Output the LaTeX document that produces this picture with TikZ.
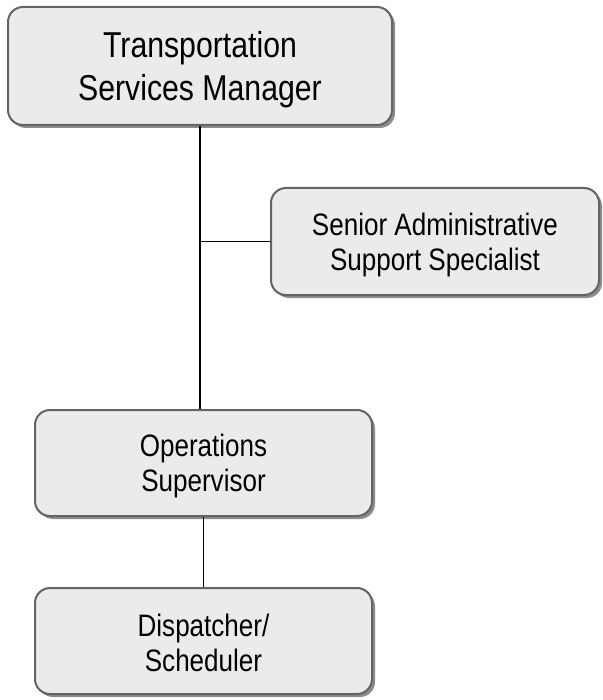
\documentclass[tikz,border=0pt]{standalone}
\usepackage{fontspec}
\setmainfont[FakeStretch=0.84]{Liberation Sans}
\usetikzlibrary{shadows}
\definecolor{boxfill}{HTML}{EBEBEB}
\definecolor{boxline}{HTML}{646464}
\definecolor{boxshade}{HTML}{8C8C8C}
\tikzset{
  orgbox/.style={draw=boxline, line width=2pt, fill=boxfill, rounded corners=15pt,
    inner sep=0pt,
    drop shadow={shadow xshift=3pt, shadow yshift=-3pt, fill=boxshade, opacity=1}},
  boxtext/.style={align=center, inner sep=0pt},
  bigtext/.style={boxtext, font=\fontsize{36}{43}\selectfont},
  smalltext/.style={boxtext, font=\fontsize{31}{35}\selectfont},
  link/.style={draw=black, line width=1.6pt}
}
\begin{document}
\begin{tikzpicture}[x=1pt, y=-1pt]
  \useasboundingbox (0,0) rectangle (602,700);
  % boxes
  \node[orgbox, minimum width=384pt, minimum height=118pt] (mgr) at (200,66) {};
  \node[orgbox, minimum width=328pt, minimum height=107pt] (sass) at (435,241.5) {};
  \node[orgbox, minimum width=337pt, minimum height=106pt] (ops) at (203.5,463) {};
  \node[orgbox, minimum width=337pt, minimum height=106pt] (disp) at (203.5,641) {};
  % titles
  \node[bigtext] (mgrt) at ([yshift=-4pt]mgr.center) {Transportation\\Services Manager};
  \node[smalltext] (sasst) at ([yshift=-3pt]sass.center) {Senior Administrative\\Support Specialist};
  \node[smalltext] (opst) at ([yshift=-3pt]ops.center) {Operations\\Supervisor};
  \node[smalltext] (dispt) at ([yshift=-2pt]disp.center) {Dispatcher/\\Scheduler};
  % reporting lines
  \draw[link] (mgr.south) -- (mgr.south |- ops.north);
  \draw[link] (sass.west) -- (sass.west -| mgr.south);
  \draw[link] (ops.south) -- (disp.north);
\end{tikzpicture}
\end{document}
